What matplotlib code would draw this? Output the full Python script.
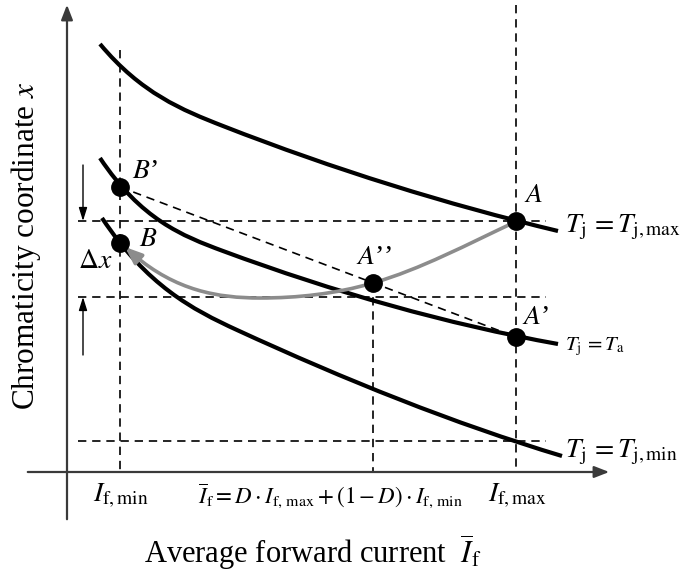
import matplotlib
matplotlib.use("Agg")
import matplotlib.pyplot as plt
from matplotlib.path import Path
from matplotlib.patches import PathPatch

plt.rcParams['font.family'] = ['Liberation Serif', 'DejaVu Serif']
plt.rcParams['mathtext.fontset'] = 'stix'

# ---- data (schematic; pixel-like units, y grows downward) ----
# Each curve is given as cubic Bezier vertices (start, then 3 vertices per segment)
tjmax_x = [100, 141, 182, 223, 334.7, 446.3, 558]
tjmax_y = [44, 93.2, 110.0, 126, 169.6, 204.2, 231]

ta_x = [100, 141, 182, 223, 334.7, 446.3, 558]
ta_y = [158, 219.5, 235.8, 251, 292.3, 323.9, 344]

tjmin_x = [102, 147, 192, 237, 345.3, 453.7, 562]
tjmin_y = [218, 285.5, 309.3, 330, 379.8, 423.5, 456]

path_x = [134, 176, 218, 260, 297.7, 335.3, 373, 420.3, 467.7, 515]
path_y = [255, 290.7, 298, 298, 298, 293.9, 283, 269.3, 244.2, 222]
path_tip = (125, 247)

pt_names = ["B'", "B", "A", "A''", "A'"]
pt_x = [120, 120, 516, 373, 516]
pt_y = [187, 243, 221, 283, 337]

hline_y = [221, 297, 441]
vline_x = [120, 373, 516]
vline_top = [50, 283, 5]

tick_x = [121, 330, 517]
tick_labels = [r"$I_{\mathrm{f,min}}$",
               r"$\overline{I}_{\mathrm{f}} = D\cdot I_{\mathrm{f,\,max}} + (1-D)\cdot I_{\mathrm{f,\,min}}$",
               r"$I_{\mathrm{f,max}}$"]

curve_labels = [r"$T_{\mathrm{j}}\,=T_{\mathrm{j,max}}$", r"$T_{\mathrm{j}}\,=T_{\mathrm{a}}$",
                r"$T_{\mathrm{j}}\,=T_{\mathrm{j,min}}$"]
curve_label_y = [227, 347, 452]


def bezier_path(xs, ys):
    verts = list(zip(xs, ys))
    codes = [Path.MOVETO] + [Path.CURVE4] * (len(verts) - 1)
    return Path(verts, codes)


# ---- figure ----
fig = plt.figure(figsize=(6.98, 5.81), dpi=100)
ax = fig.add_axes([0, 0, 1, 1])
ax.set_xlim(0, 698)
ax.set_ylim(581, 0)
ax.axis('off')

axcol = '#3a3a3a'
ax.annotate('', xy=(67, 2), xytext=(67, 522),
            arrowprops=dict(arrowstyle='-|>,head_length=0.9,head_width=0.35', color=axcol, lw=1.6))
ax.annotate('', xy=(612, 472), xytext=(25, 472),
            arrowprops=dict(arrowstyle='-|>,head_length=0.9,head_width=0.35', color=axcol, lw=1.6))

dash = dict(color='black', lw=1.2, dashes=(5, 3.5))
for yv in hline_y:
    ax.plot([78, 546], [yv, yv], **dash)
for xv, top in zip(vline_x, vline_top):
    ax.plot([xv, xv], [top, 472], **dash)

# straight dashed line B' -> A'
ax.plot([pt_x[0], pt_x[4]], [pt_y[0], pt_y[4]], **dash)

# curves
for xs, ys in [(tjmax_x, tjmax_y), (ta_x, ta_y), (tjmin_x, tjmin_y)]:
    ax.add_patch(PathPatch(bezier_path(xs, ys), fill=False, edgecolor='black', lw=3.0,
                           capstyle='butt', zorder=3))

# gray trajectory
gray = '#8c8c8c'
ax.add_patch(PathPatch(bezier_path(path_x, path_y), fill=False, edgecolor=gray, lw=2.6,
                       capstyle='butt', zorder=3.5))
ax.annotate('', xy=path_tip, xytext=(path_x[0], path_y[0]),
            arrowprops=dict(arrowstyle='-|>,head_length=1.0,head_width=0.4', color=gray, lw=2.6,
                            shrinkA=0, shrinkB=0), zorder=3.5)

# points
ax.plot(pt_x, pt_y, 'o', color='black', markersize=12.5, zorder=5)

# Delta-x arrows
ax.annotate('', xy=(83, 221), xytext=(83, 165),
            arrowprops=dict(arrowstyle='-|>,head_length=0.8,head_width=0.25', color='black', lw=1.0,
                            shrinkA=0, shrinkB=0))
ax.annotate('', xy=(83, 297), xytext=(83, 355),
            arrowprops=dict(arrowstyle='-|>,head_length=0.8,head_width=0.25', color='black', lw=1.0,
                            shrinkA=0, shrinkB=0))
ax.text(95, 262, r"$\Delta x$", fontsize=20, ha='center', va='center')

# point labels
lab_pos = {"B'": (145, 171), "B": (148, 240), "A": (534, 196), "A''": (374, 257), "A'": (536, 317)}
lab_txt = {"B'": r"$B$’", "B": r"$B$", "A": r"$A$", "A''": r"$A$’’", "A'": r"$A$’"}
for n in pt_names:
    x, y = lab_pos[n]
    ax.text(x, y, lab_txt[n], fontsize=20, ha='center', va='center')

# curve labels
for lbl, yv, fs in zip(curve_labels, curve_label_y, [20, 15, 20]):
    ax.text(565, yv, lbl, fontsize=fs, ha='left', va='center')

# tick labels
for xv, lbl, fs in zip(tick_x, tick_labels, [20, 16.5, 20]):
    ax.text(xv, 496, lbl, fontsize=fs, ha='center', va='center')

# axis labels
ax.text(26, 246, r"Chromaticity coordinate $x$", fontsize=22.5, rotation=90, ha='center', va='center')
ax.text(313, 552, r"Average forward current  $\overline{I}_{\mathrm{f}}$", fontsize=22, ha='center', va='center')

fig.savefig('out.png', dpi=100)
